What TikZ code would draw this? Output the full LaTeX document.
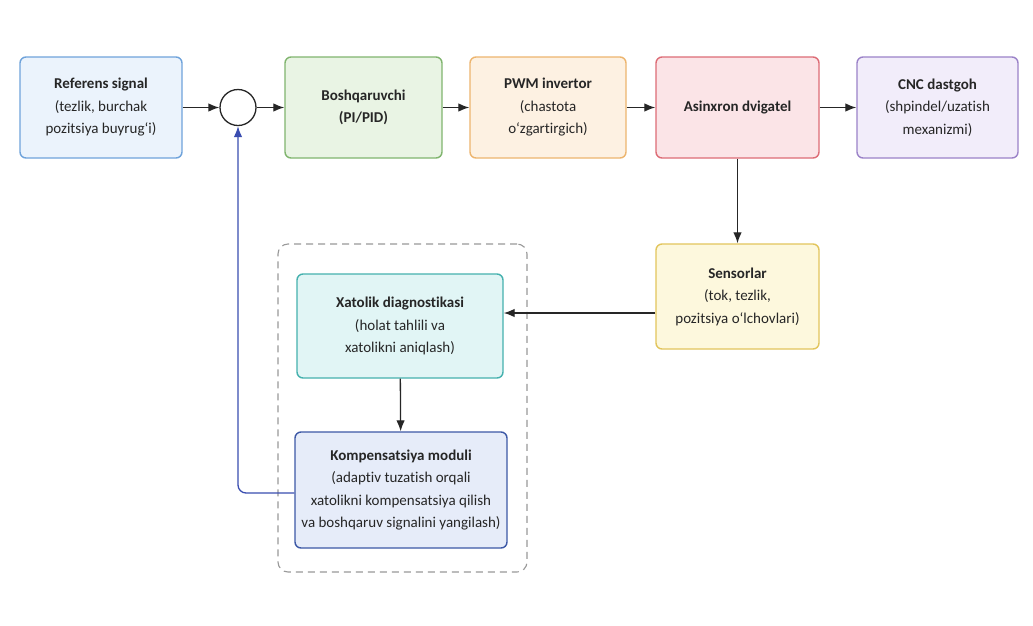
\documentclass[tikz,border=0pt]{standalone}
\usepackage{fontspec}
\setmainfont[Ligatures=NoCommon]{Carlito}
\usetikzlibrary{arrows.meta,calc}
\definecolor{refF}{HTML}{EBF3FC}\definecolor{refD}{HTML}{6FA3DB}
\definecolor{boF}{HTML}{E9F4E4}\definecolor{boD}{HTML}{80B56E}
\definecolor{pwF}{HTML}{FDF1E2}\definecolor{pwD}{HTML}{EDB56E}
\definecolor{asF}{HTML}{FBE4E7}\definecolor{asD}{HTML}{DD6C76}
\definecolor{cnF}{HTML}{F2EDFA}\definecolor{cnD}{HTML}{9B82C8}
\definecolor{seF}{HTML}{FDF8DD}\definecolor{seD}{HTML}{E2C55C}
\definecolor{xaF}{HTML}{E1F5F5}\definecolor{xaD}{HTML}{45B1AE}
\definecolor{koF}{HTML}{E6ECF9}\definecolor{koD}{HTML}{3C58A6}
\definecolor{fb}{HTML}{3A4DB0}
\tikzset{
  blk/.style={draw, line width=1.4pt, rounded corners=6pt, align=center, inner sep=0pt,
    font=\fontsize{15}{22.5}\selectfont, text=black!85},
  arr/.style={-{Latex[length=11pt,width=8.5pt]}, line width=1.3pt, black!85},
}
\begin{document}
\begin{tikzpicture}[x=1pt,y=-1pt]
\useasboundingbox (0,0) rectangle (1033,625);
\fill[white] (0,0) rectangle (1033,625);
% dashed group
\node[draw=black!40, line width=1.1pt, dash pattern=on 7pt off 5pt, rounded corners=10pt,
  minimum width=249pt, minimum height=328pt, inner sep=0pt] (grp) at (402.5,408) {};
\node[blk, fill=refF, draw=refD, minimum width=162pt, minimum height=101pt] (ref) at (101,107.5)
  {\textbf{Referens signal}\\(tezlik, burchak\\pozitsiya buyrug‘i)};
\node[draw=black!85, fill=white, line width=1.3pt, circle, minimum size=36pt, inner sep=0pt] (sum) at (238,107.5) {};
\node[blk, fill=boF, draw=boD, minimum width=157pt, minimum height=101pt] (bos) at (363.5,107.5)
  {\textbf{Boshqaruvchi}\\\textbf{(PI/PID)}};
\node[blk, fill=pwF, draw=pwD, minimum width=156pt, minimum height=101pt] (pwm) at (548,107.5)
  {\textbf{PWM invertor}\\(chastota\\o‘zgartirgich)};
\node[blk, fill=asF, draw=asD, minimum width=163pt, minimum height=101pt] (asx) at (737.5,107.5)
  {\textbf{Asinxron dvigatel}};
\node[blk, fill=cnF, draw=cnD, minimum width=161pt, minimum height=101pt] (cnc) at (937.5,107.5)
  {\textbf{CNC dastgoh}\\(shpindel/uzatish\\mexanizmi)};
\node[blk, fill=seF, draw=seD, minimum width=163pt, minimum height=105pt] (sen) at (737.5,296.5)
  {\textbf{Sensorlar}\\(tok, tezlik,\\pozitsiya o‘lchovlari)};
\node[blk, fill=xaF, draw=xaD, minimum width=206pt, minimum height=104pt] (xat) at (400,326)
  {\textbf{Xatolik diagnostikasi}\\(holat tahlili va\\xatolikni aniqlash)};
\node[blk, fill=koF, draw=koD, minimum width=212pt, minimum height=116pt] (kom) at (401,490)
  {\textbf{Kompensatsiya moduli}\\(adaptiv tuzatish orqali\\xatolikni kompensatsiya qilish\\va boshqaruv signalini yangilash)};
% connectors
\draw[arr] (ref) -- (sum);
\draw[arr] (sum) -- (bos);
\draw[arr] (bos) -- (pwm);
\draw[arr] (pwm) -- (asx);
\draw[arr] (asx) -- (cnc);
\draw[arr] (asx) -- (sen);
\draw[arr] (sen.west |- 0,313) -- (xat.east |- 0,313);
\draw[arr] (xat) -- (kom);
\draw[arr, fb, rounded corners=8pt] (kom.west |- 0,493) -| (sum.south);
\end{tikzpicture}
\end{document}
